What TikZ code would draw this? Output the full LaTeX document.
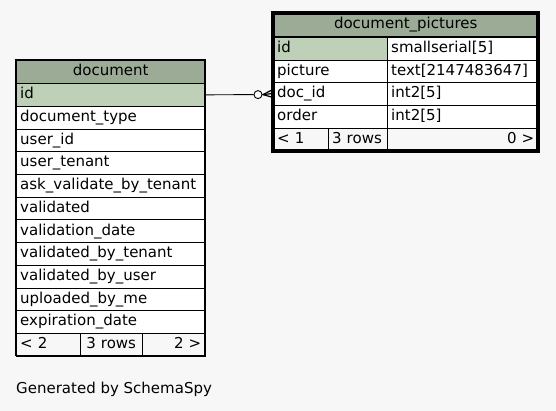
\documentclass[tikz,border=0pt]{standalone}
\usepackage{fontspec}
\setmainfont{DejaVu Sans}
\usetikzlibrary{calc}
\definecolor{headgreen}{HTML}{9BAB96}
\definecolor{keygreen}{HTML}{BED1B8}
\definecolor{pagegray}{HTML}{F7F7F7}
\tikzset{
  cell/.style={draw, fill=white, anchor=north west, inner xsep=4pt, inner ysep=0pt,
    minimum height=22.7pt, text height=11pt, text depth=3pt, align=left},
  headcell/.style={cell, fill=headgreen, align=center, minimum height=23.5pt},
  keycell/.style={cell, fill=keygreen},
  footcell/.style={cell, fill=pagegray},
}

\begin{document}
\begin{tikzpicture}[x=1pt, y=-1pt, font=\fontsize{15}{17}\selectfont]
\fill[pagegray] (0,0) rectangle (556,411);

%%%%%%%%%%%%%%%%%%%%%%%%%%%%%%%%%%%%%%%%%%%%%%%%%%%%%%%%%%%%%% document
\coordinate (A) at (16, 60);

\node[headcell, text width=181pt] (doc) at ($(A)$) {document};
\node[keycell, text width=181pt] (docid) at ($(A)+(0,23.3)$) {id};
\node[cell, text width=181pt] (doctype) at ($(A)+(0,46)$) {document\_type};
\node[cell, text width=181pt] (docuser) at ($(A)+(0,68.7)$) {user\_id};
\node[cell, text width=181pt] (doctenant) at ($(A)+(0,91.4)$) {user\_tenant};
\node[cell, text width=181pt] (docask) at ($(A)+(0,114.1)$) {ask\_validate\_by\_tenant};
\node[cell, text width=181pt] (docval) at ($(A)+(0,136.8)$) {validated};
\node[cell, text width=181pt] (docvaldate) at ($(A)+(0,159.5)$) {validation\_date};
\node[cell, text width=181pt] (docvaltenant) at ($(A)+(0,182.2)$) {validated\_by\_tenant};
\node[cell, text width=181pt] (docvaluser) at ($(A)+(0,204.9)$) {validated\_by\_user};
\node[cell, text width=181pt] (docupload) at ($(A)+(0,227.6)$) {uploaded\_by\_me};
\node[cell, text width=181pt] (docexpire) at ($(A)+(0,250.3)$) {expiration\_date};
\node[footcell, text width=56pt] (docparents) at ($(A)+(0,273)$) {< 2};
\node[footcell, text width=54pt, align=center] (docrows) at ($(A)+(64,273)$) {3 rows};
\node[footcell, text width=55pt, align=right] (docchildren) at ($(A)+(126,273)$) {2 >};
\draw[line width=1.3pt] ($(A)$) rectangle ($(A)+(189,295.7)$);

%%%%%%%%%%%%%%%%%%%%%%%%%%%%%%%%%%%%%%%%%%%%%%%%%%%%%%%%%%%%%% document_pictures
\coordinate (B) at (273, 13);

\node[headcell, text width=257pt] (pic) at ($(B)$) {document\_pictures};
\node[keycell, text width=106pt] (picid) at ($(B)+(0,24)$) {id};
\node[cell, text width=143pt] (picidtype) at ($(B)+(114,24)$) {smallserial[5]};
\node[cell, text width=106pt] (picpicture) at ($(B)+(0,46.7)$) {picture};
\node[cell, text width=143pt] (picpicturetype) at ($(B)+(114,46.7)$) {text[2147483647]};
\node[cell, text width=106pt] (picdoc) at ($(B)+(0,69.4)$) {doc\_id};
\node[cell, text width=143pt] (picdoctype) at ($(B)+(114,69.4)$) {int2[5]};
\node[cell, text width=106pt] (picorder) at ($(B)+(0,92.1)$) {order};
\node[cell, text width=143pt] (picordertype) at ($(B)+(114,92.1)$) {int2[5]};
\node[footcell, text width=47pt] (picparents) at ($(B)+(0,114.8)$) {< 1};
\node[footcell, text width=51pt] (picrows) at ($(B)+(55,114.8)$) {3 rows};
\node[footcell, text width=143pt, align=right] (picchildren) at ($(B)+(114,114.8)$) {0 >};
\draw[line width=3.3pt] ($(B)$) rectangle ($(B)+(265,138)$);

%%%%%%%%%%%%%%%%%%%%%%%%%%%%%%%%%%%%%%%%%%%%%%%%%%%%%%%%%%%%%% link
\node[circle, draw, fill=white, minimum size=8pt, inner sep=0pt, line width=0.9pt] (ring) at (258, 94.6) {};
\coordinate (crow) at (263, 94.6);
\draw[line width=0.9pt] (docid.east) -- (ring.west);
\draw[line width=0.9pt] (ring.east) -- (crow);
\draw[line width=1.2pt] (crow) -- ($(picdoc.west)+(0,-4.5)$);
\draw[line width=1.2pt] (crow) -- ($(picdoc.west)+(0,-0.5)$);
\draw[line width=1.2pt] (crow) -- ($(picdoc.west)+(0,3.5)$);

\node[anchor=west, inner sep=0pt] (credit) at (16, 389.5) {Generated by SchemaSpy};

\end{tikzpicture}
\end{document}
